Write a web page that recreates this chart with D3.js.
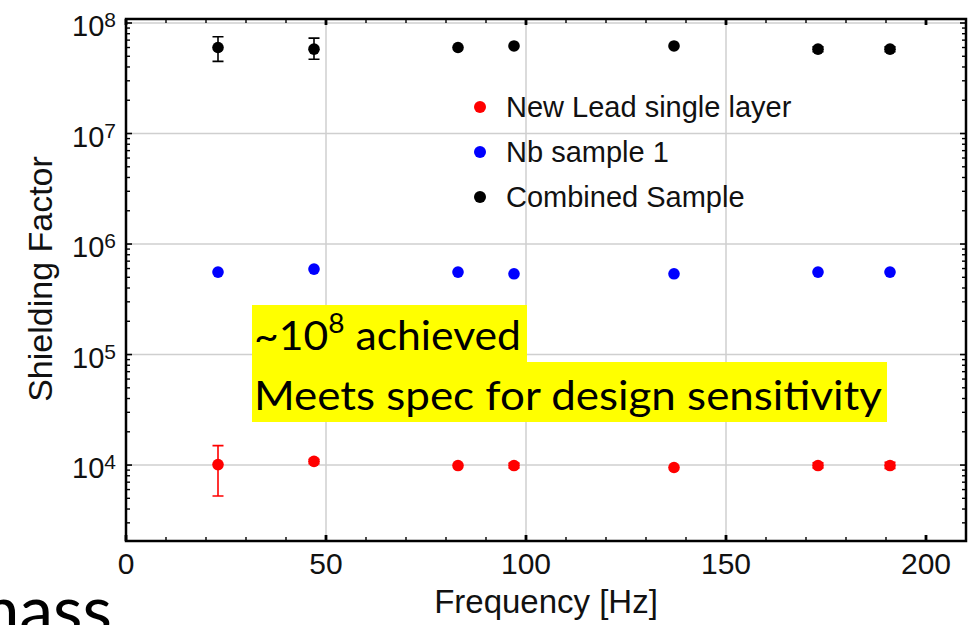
<!DOCTYPE html>
<html>
<head>
<meta charset="utf-8">
<script src="https://cdn.jsdelivr.net/npm/d3@7"></script>
<style>
  body { margin: 0; background: #fff; }
  svg { display: block; }
  .tick-label { font-family: "Liberation Sans", Arial, sans-serif; fill: #111; }
  .note { font-family: Lato, "Open Sans", sans-serif; fill: #000; }
</style>
</head>
<body>
<svg id="chart" width="980" height="625"></svg>
<script>
// frequencies the three samples were measured at
var freqs = [23, 47, 83, 97, 137, 173, 191];

// shielding factor
var leadValues = [1.01e4, 1.08e4, 9.9e3, 9.9e3, 9.5e3, 9.9e3, 9.9e3];
var leadLow    = [5.25e3, 1.03e4, null, 9.4e3, null, 9.4e3, 9.3e3];
var leadHigh   = [1.5e4, 1.13e4, null, 1.04e4, null, 1.05e4, 1.06e4];

var nbValues = [5.57e5, 5.93e5, 5.57e5, 5.38e5, 5.38e5, 5.57e5, 5.57e5];

var combValues = [6.0e7, 5.8e7, 6.0e7, 6.2e7, 6.2e7, 5.8e7, 5.8e7];
var combLow    = [4.5e7, 4.7e7, null, null, null, 5.5e7, 5.5e7];
var combHigh   = [7.5e7, 7.3e7, null, null, null, 6.1e7, 6.1e7];

var legendLabels = ["New Lead single layer", "Nb sample 1", "Combined Sample"];
var seriesColors = ["#ff0000", "#0000ff", "#000000"];

var xTicks = [0, 50, 100, 150, 200];
var xGrid = [50, 100, 150];
var yDecades = [4, 5, 6, 7, 8];

var svg = d3.select("#chart");

// plot frame ("top" is taken by window.top, hence the prefix)
var pLeft = 126, pRight = 966, pTop = 19, pBottom = 541;

var x = d3.scaleLinear().domain([0, 210]).range([pLeft, pRight]);
var y = d3.scaleLog().domain([2055, 1.087e8]).range([pBottom, pTop]);

// grid
var grid = svg.append("g").attr("class", "grid");
grid.selectAll(".hgrid")
    .data(yDecades)
    .enter()
    .append("line")
    .attr("x1", pLeft).attr("x2", pRight)
    .attr("y1", function (d) { return y(Math.pow(10, d)); })
    .attr("y2", function (d) { return y(Math.pow(10, d)); })
    .style("stroke", "#cfcfcf").style("stroke-width", 1.5);
grid.selectAll(".vgrid")
    .data(xGrid)
    .enter()
    .append("line")
    .attr("y1", pTop).attr("y2", pBottom)
    .attr("x1", function (d) { return x(d); })
    .attr("x2", function (d) { return x(d); })
    .style("stroke", "#cfcfcf").style("stroke-width", 1.5);

// frame ticks (mathematica style, pointing inward)
var minorX = d3.range(10, 210, 10).filter(function (v) { return v % 50 != 0; });
var majorX = xTicks;
var minorY = [];
for (var e = 3; e <= 7; e++) {
    for (var k = 2; k <= 9; k++) {
        var v = k * Math.pow(10, e);
        if (v >= 2055 && v <= 1.087e8) minorY.push(v);
    }
}

var ticks = svg.append("g").attr("class", "ticks").style("stroke", "#000");

function tickLines(data, pos, isX, len, w) {
    // bottom/left and top/right
    var sides = isX ? [[pBottom, -1], [pTop, 1]] : [[pLeft, 1], [pRight, -1]];
    sides.forEach(function (s) {
        ticks.selectAll(null)
            .data(data)
            .enter()
            .append("line")
            .attr(isX ? "x1" : "y1", pos)
            .attr(isX ? "x2" : "y2", pos)
            .attr(isX ? "y1" : "x1", s[0])
            .attr(isX ? "y2" : "x2", s[0] + s[1] * len)
            .style("stroke-width", w);
    });
}
tickLines(minorX, function (d) { return x(d); }, true, 4, 1.4);
tickLines(majorX, function (d) { return x(d); }, true, 6, 2.8);
tickLines(minorY, function (d) { return y(d); }, false, 4, 1.4);
tickLines(yDecades.map(function (d) { return Math.pow(10, d); }), function (d) { return y(d); }, false, 6, 1.6);

// frame
svg.append("rect")
    .attr("x", pLeft).attr("y", pTop)
    .attr("width", pRight - pLeft).attr("height", pBottom - pTop)
    .style("fill", "none").style("stroke", "#000").style("stroke-width", 2.5);

// tick labels
svg.append("g").selectAll("text")
    .data(xTicks)
    .enter()
    .append("text")
    .attr("class", "tick-label")
    .attr("x", function (d) { return x(d); })
    .attr("y", 574)
    .attr("text-anchor", "middle")
    .style("font-size", "30px")
    .text(function (d) { return d; });

var yLab = svg.append("g").selectAll("text")
    .data(yDecades)
    .enter()
    .append("text")
    .attr("class", "tick-label")
    .attr("x", 116)
    .attr("y", function (d) { return y(Math.pow(10, d)) + 13; })
    .attr("text-anchor", "end");
yLab.append("tspan").style("font-size", "29px").text("10");
yLab.append("tspan").attr("dy", -9).style("font-size", "21px")
    .text(function (d) { return d; });

// axis titles
svg.append("text")
    .attr("class", "tick-label")
    .attr("x", (pLeft + pRight) / 2)
    .attr("y", 613)
    .attr("text-anchor", "middle")
    .style("font-size", "33px")
    .text("Frequency [Hz]");

svg.append("text")
    .attr("class", "tick-label")
    .attr("transform", "translate(52,279) rotate(-90)")
    .attr("text-anchor", "middle")
    .style("font-size", "34px")
    .text("Shielding Factor");

// data
function makeSeries(vals, lo, hi, color) {
    return freqs.map(function (f, i) {
        return { f: f, v: vals[i], lo: lo ? lo[i] : null, hi: hi ? hi[i] : null, color: color };
    });
}
var series = [
    makeSeries(leadValues, leadLow, leadHigh, seriesColors[0]),
    makeSeries(nbValues, null, null, seriesColors[1]),
    makeSeries(combValues, combLow, combHigh, seriesColors[2])
];

var marks = svg.append("g").attr("class", "marks");
series.forEach(function (s) {
    var g = marks.append("g");
    var withErr = s.filter(function (d) { return d.lo != null; });
    g.selectAll(".err")
        .data(withErr)
        .enter()
        .append("path")
        .attr("d", function (d) {
            var cx = x(d.f), y0 = y(d.lo), y1 = y(d.hi);
            return "M" + cx + "," + y0 + "V" + y1 +
                "M" + (cx - 5.5) + "," + y0 + "H" + (cx + 5.5) +
                "M" + (cx - 5.5) + "," + y1 + "H" + (cx + 5.5);
        })
        .style("fill", "none")
        .style("stroke", function (d) { return d.color; })
        .style("stroke-width", 1.6);
    g.selectAll("circle")
        .data(s)
        .enter()
        .append("circle")
        .attr("cx", function (d) { return x(d.f); })
        .attr("cy", function (d) { return y(d.v); })
        .attr("r", 5.8)
        .style("fill", function (d) { return d.color; });
});

// legend
var legend = svg.append("g").attr("transform", "translate(480,107)");
legendLabels.forEach(function (lab, i) {
    var row = legend.append("g").attr("transform", "translate(0," + (i * 45) + ")");
    row.append("circle").attr("r", 6).style("fill", seriesColors[i]);
    row.append("text")
        .attr("class", "tick-label")
        .attr("x", 26).attr("y", 10)
        .style("font-size", "29px")
        .text(lab);
});

// highlighted note laid over the chart
var note = svg.append("g");
note.append("rect").attr("x", 252).attr("y", 305).attr("width", 275).attr("height", 57)
    .style("fill", "#ffff00");
note.append("rect").attr("x", 252).attr("y", 362).attr("width", 635).attr("height", 60)
    .style("fill", "#ffff00");
var l1 = note.append("text").attr("class", "note").attr("x", 254).attr("y", 350)
    .style("font-size", "41px")
    .attr("textLength", 267).attr("lengthAdjust", "spacingAndGlyphs");
l1.append("tspan").text("~10");
l1.append("tspan").attr("dy", -17).style("font-size", "27px").text("8");
l1.append("tspan").attr("dy", 17).text(" achieved");
note.append("text").attr("class", "note").attr("x", 254).attr("y", 410)
    .style("font-size", "41px")
    .attr("textLength", 628).attr("lengthAdjust", "spacingAndGlyphs")
    .text("Meets spec for design sensitivity");

// slide text cut off at the bottom left
svg.append("text").attr("class", "note")
    .attr("x", 112).attr("y", 634)
    .attr("text-anchor", "end")
    .style("font-size", "68px")
    .text("mass");
</script>
</body>
</html>
